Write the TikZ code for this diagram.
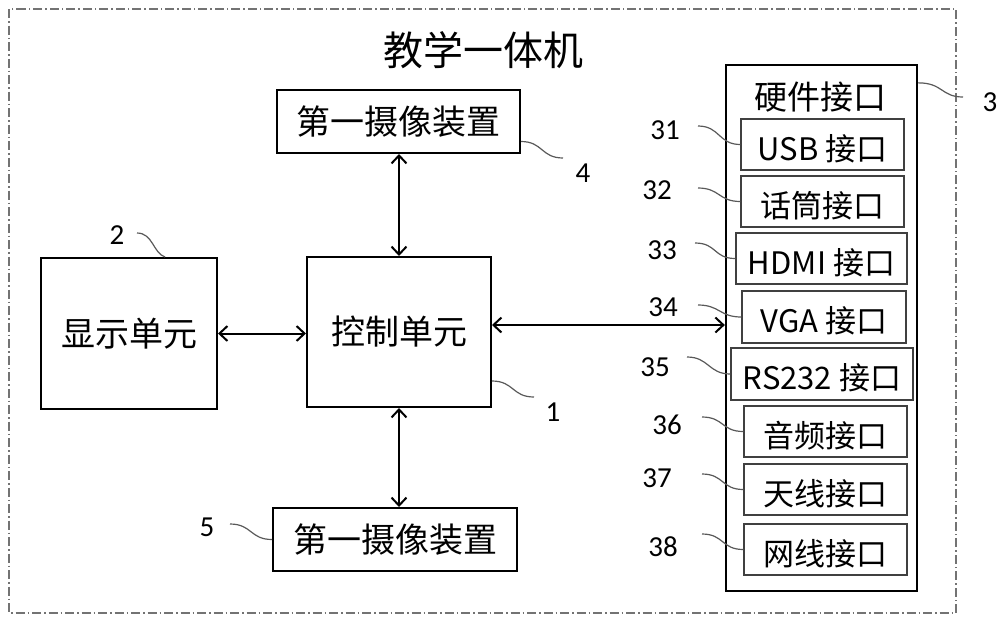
\documentclass[tikz,border=0pt]{standalone}
\usepackage{fontspec}
\newfontfamily\cjk{Noto Sans CJK SC}
\newfontfamily\numf{Carlito}
\usetikzlibrary{arrows.meta,calc}
\newcommand\lowtxt[1]{\raisebox{-4pt}[\height][\depth]{#1}}
\tikzset{
  mainbox/.style={draw=black, line width=2pt, inner sep=0pt, font=\cjk\fontsize{34}{34}\selectfont},
  subbox/.style={draw=black!75, line width=1.3pt, inner sep=0pt, minimum height=51pt, font=\cjk\fontsize{31}{31}\selectfont},
  numlabel/.style={inner sep=0pt, font=\numf\fontsize{29}{29}\selectfont},
  leader/.style={draw=black!65, line width=1.2pt},
  barb/.tip={Straight Barb[length=8pt,width=15pt,line width=2pt]},
  biarrow/.style={line width=2pt, barb-barb},
  frame/.style={draw=black!55, line width=1.3pt, dash pattern=on 9pt off 3pt on 1.5pt off 3pt},
}
\begin{document}
\begin{tikzpicture}[x=1pt,y=-1pt]
\useasboundingbox (0,0) rectangle (1000,619);
\draw[frame] (9,9) rectangle (956,613);
\node[inner sep=0pt, font=\cjk\fontsize{40}{40}\selectfont] (title) at (483,50) {教学一体机};

\node[mainbox, minimum width=243pt, minimum height=63pt] (cam1) at (398.5,121.5) {第一摄像装置};
\node[mainbox, minimum width=176pt, minimum height=151pt] (disp) at (129,333.5) {显示单元};
\node[mainbox, minimum width=184pt, minimum height=150pt] (ctrl) at (399,332) {控制单元};
\node[mainbox, minimum width=244pt, minimum height=63pt] (cam2) at (395,539.5) {第一摄像装置};
\node[draw=black, line width=2.3pt, inner sep=0pt, minimum width=191pt, minimum height=526pt] (hw) at (821.5,328) {};
\node[inner sep=0pt, font=\cjk\fontsize{33}{33}\selectfont] (hwt) at (820,97) {硬件接口};

\node[subbox, minimum width=163pt] (usb) at (822.5,144.5) {\lowtxt{USB 接口}};
\node[subbox, minimum width=163pt] (mic) at (822.5,201.5) {\lowtxt{话筒接口}};
\node[subbox, minimum width=171pt] (hdmi) at (821.5,258.5) {\lowtxt{HDMI 接口}};
\node[subbox, minimum width=164pt, minimum height=52pt] (vga) at (824,317) {\lowtxt{VGA 接口}};
\node[subbox, minimum width=182pt, minimum height=52pt] (rs) at (822,374) {\lowtxt{RS232 接口}};
\node[subbox, minimum width=163pt] (aud) at (825.5,431.5) {\lowtxt{音频接口}};
\node[subbox, minimum width=163pt] (ant) at (825.5,489.5) {\lowtxt{天线接口}};
\node[subbox, minimum width=163pt] (net) at (825.5,549.5) {\lowtxt{网线接口}};

% arrows
\draw[biarrow] (ctrl.north) -- (ctrl.north |- cam1.south);
\draw[biarrow] (ctrl.south) -- (ctrl.south |- cam2.north);
\draw[biarrow] (disp.east) -- (disp.east -| ctrl.west);
\coordinate (c1) at ($(ctrl.east)+(0,-7)$);
\draw[biarrow] (c1) -- (c1 -| hw.west);

% number labels
\node[numlabel] (n4) at (583,173) {4};
\node[numlabel] (n2) at (117,235) {2};
\node[numlabel] (n1) at (553,412) {1};
\node[numlabel] (n5) at (207,527) {5};
\node[numlabel] (n3) at (990,102) {3};
\node[numlabel] (n31) at (665,130) {31};
\node[numlabel] (n32) at (657,190) {32};
\node[numlabel] (n33) at (662,250) {33};
\node[numlabel] (n34) at (663,307) {34};
\node[numlabel] (n35) at (655,367) {35};
\node[numlabel] (n36) at (667,425) {36};
\node[numlabel] (n37) at (657,478) {37};
\node[numlabel] (n38) at (663,547) {38};

% leader ends near labels
\coordinate (l4) at (563,158);
\coordinate (l2) at (137,233);
\coordinate (l1) at (534,397);
\coordinate (l5) at (230,524);
\coordinate (l3) at (963,97);
\coordinate (l31) at (698,126);
\coordinate (l32) at (698,188);
\coordinate (l33) at (695,243);
\coordinate (l34) at (698,305);
\coordinate (l35) at (687,357);
\coordinate (l36) at (702,417);
\coordinate (l37) at (702,474);
\coordinate (l38) at (702,534);

\draw[leader] ([yshift=-20pt]cam1.east) .. controls +(22,0) and +(-22,0) .. (l4);
\draw[leader] (l2) .. controls +(16,0) and +(-12,-4) .. ([xshift=36pt]disp.north);
\draw[leader] ([yshift=-49pt]ctrl.east) .. controls +(22,0) and +(-22,0) .. (l1);
\draw[leader] (l5) .. controls +(22,0) and +(-22,0) .. (cam2.west);
\draw[leader] ([yshift=-19pt]hw.north east) .. controls +(25,0) and +(-22,0) .. (l3);
\draw[leader] (l31) .. controls +(22,0) and +(-22,0) .. (usb.west);
\draw[leader] (l32) .. controls +(22,0) and +(-22,0) .. (mic.west);
\draw[leader] (l33) .. controls +(22,0) and +(-22,0) .. (hdmi.west);
\draw[leader] (l34) .. controls +(22,0) and +(-22,0) .. (vga.west);
\draw[leader] (l35) .. controls +(22,0) and +(-22,0) .. (rs.west);
\draw[leader] (l36) .. controls +(22,0) and +(-22,0) .. (aud.west);
\draw[leader] (l37) .. controls +(22,0) and +(-22,0) .. (ant.west);
\draw[leader] (l38) .. controls +(22,0) and +(-22,0) .. (net.west);
\end{tikzpicture}
\end{document}
